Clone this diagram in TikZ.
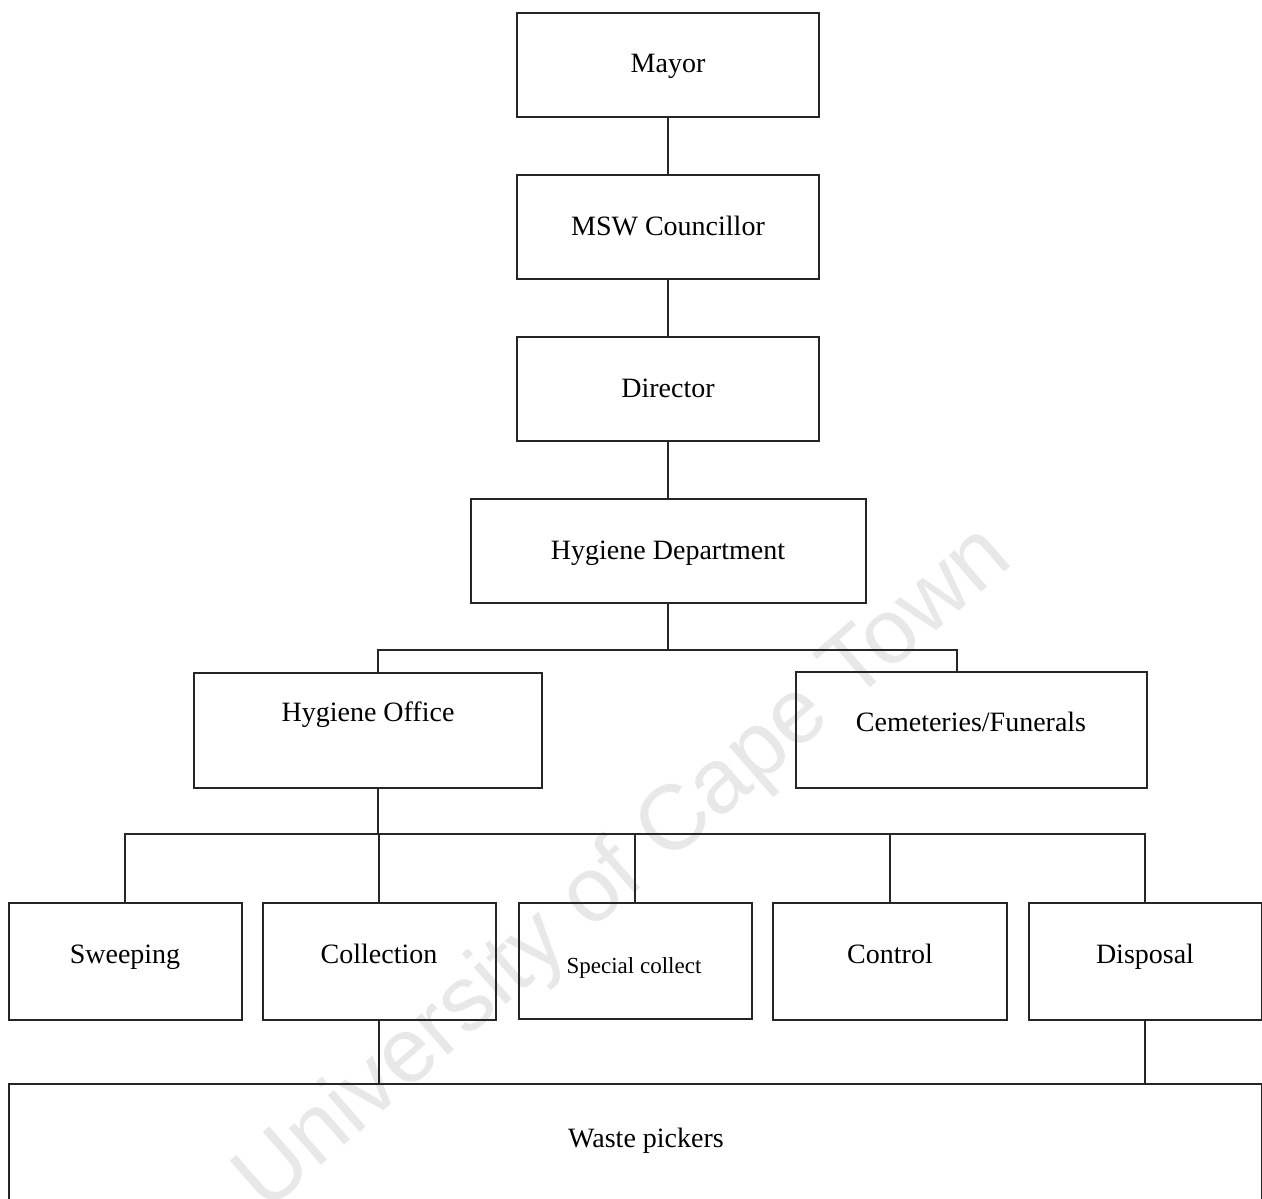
\documentclass[tikz,border=0pt]{standalone}
\usepackage{fontspec}
\setmainfont{Liberation Serif}
\newfontfamily\wmfont{Liberation Sans}
\begin{document}
\begin{tikzpicture}[x=1pt,y=-1pt,
  box/.style={draw=black!85, line width=2pt, inner sep=0pt, outer sep=0pt},
  conn/.style={draw=black!85, line width=2pt},
  lbl/.style={anchor=base, inner sep=0pt, font=\fontsize{28}{30}\selectfont, text=black},
  smalllbl/.style={anchor=base, inner sep=0pt, font=\fontsize{23}{25}\selectfont, text=black},
  wmark/.style={rotate=41, text=black!9, inner sep=0pt, font=\wmfont\fontsize{92}{92}\selectfont}]
\useasboundingbox (0,0) rectangle (1262,1199);
% watermark
\node[wmark] (wm) at (625,870) {University of Cape Town};
% boxes
\node[box, minimum width=302pt, minimum height=104pt] (mayor) at (668,65) {};
\node[box, minimum width=302pt, minimum height=104pt] (msw) at (668,227) {};
\node[box, minimum width=302pt, minimum height=104pt] (dir) at (668,389) {};
\node[box, minimum width=395pt, minimum height=104pt] (hd) at (668,551) {};
\node[box, minimum width=348pt, minimum height=115pt] (ho) at (368,730.5) {};
\node[box, minimum width=351pt, minimum height=116pt] (cem) at (971,730) {};
\node[box, minimum width=233pt, minimum height=117pt] (sweep) at (125,961.5) {};
\node[box, minimum width=233pt, minimum height=117pt] (coll) at (379,961.5) {};
\node[box, minimum width=233pt, minimum height=116pt] (spec) at (635,961) {};
\node[box, minimum width=234pt, minimum height=117pt] (ctrl) at (890,961.5) {};
\node[box, minimum width=233pt, minimum height=117pt] (disp) at (1145,961.5) {};
\node[box, minimum width=1253pt, minimum height=176pt] (waste) at (635,1172) {};
% labels
\node[lbl] (tmayor) at (668,73) {Mayor};
\node[lbl] (tmsw) at (668,235) {MSW Councillor};
\node[lbl] (tdir) at (668,397) {Director};
\node[lbl] (thd) at (668,559) {Hygiene Department};
\node[lbl] (tho) at (368,721) {Hygiene Office};
\node[lbl] (tcem) at (971,731) {Cemeteries/Funerals};
\node[lbl] (tsweep) at (125,963) {Sweeping};
\node[lbl] (tcoll) at (379,963) {Collection};
\node[smalllbl] (tspec) at (634,973) {Special collect};
\node[lbl] (tctrl) at (890,963) {Control};
\node[lbl] (tdisp) at (1145,963) {Disposal};
\node[lbl] (twaste) at (646,1147) {Waste pickers};
% connectors
\draw[conn] (mayor.south) -- (msw.north);
\draw[conn] (msw.south) -- (dir.north);
\draw[conn] (dir.south) -- (hd.north);
\draw[conn] (hd.south) -- ++(0,47) coordinate (j1);
\draw[conn] ([xshift=10pt]ho.north) |- (j1) -| ([xshift=-14pt]cem.north);
\draw[conn] ([xshift=10pt]ho.south) -- ++(0,46) coordinate (j2);
\draw[conn] (sweep.north) |- (disp.north |- j2) -- (disp.north);
\draw[conn] (coll.north) -- (coll.north |- j2);
\draw[conn] (spec.north) -- (spec.north |- j2);
\draw[conn] (ctrl.north) -- (ctrl.north |- j2);
\draw[conn] (coll.south) -- (coll.south |- waste.north);
\draw[conn] (disp.south) -- (disp.south |- waste.north);
\end{tikzpicture}
\end{document}
